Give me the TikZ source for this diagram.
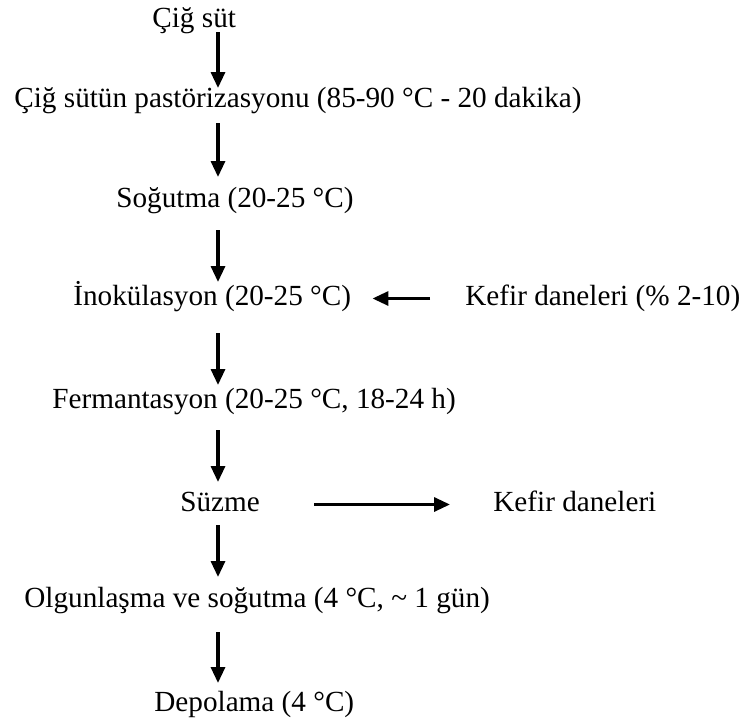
\documentclass[tikz,border=0pt]{standalone}
\usepackage{fontspec}
\setmainfont{Liberation Serif}
\usetikzlibrary{arrows.meta}

\tikzset{
  step text/.style={inner sep=0pt,anchor=base west,text height=.85em,text depth=.2em},
  flow/.style={line width=1.6pt,-{Triangle[length=8pt,width=7pt]}}
}

\begin{document}
\begin{tikzpicture}[x=.5pt,y=-.5pt,font=\fontsize{14.6pt}{17pt}\selectfont]
\useasboundingbox (0,0) rectangle (746,724);
\coordinate (axis) at (218,0);
% main steps
\node[step text] at (152,27) (cig) {Çiğ süt};
\node[step text] at (14,107) (past) {Çiğ sütün pastörizasyonu (85-90 °C - 20 dakika)};
\node[step text] at (116,207) (sogut) {Soğutma (20-25 °C)};
\node[step text] at (73,305) (inok) {İnokülasyon (20-25 °C)};
\node[step text] at (52,408) (ferm) {Fermantasyon (20-25 °C, 18-24 h)};
\node[step text] at (180,511) (suzme) {Süzme};
\node[step text] at (24,607) (olgun) {Olgunlaşma ve soğutma (4 °C, \textasciitilde{} 1 gün)};
\node[step text] at (154,711) (depo) {Depolama (4 °C)};
% side inputs and outputs
\node[step text] at (465,305) (kefirin) {Kefir daneleri (\% 2-10)};
\node[step text] at (493,511) (kefirout) {Kefir daneleri};

\draw[flow,shorten <=2.5pt,shorten >=9.5pt] (cig.base -| axis) -- (past.base -| axis);
\draw[flow,shorten <=8pt,shorten >=15pt] (past.base -| axis) -- (sogut.base -| axis);
\draw[flow,shorten <=11.5pt,shorten >=11.5pt] (sogut.base -| axis) -- (inok.base -| axis);
\draw[flow,shorten <=14pt,shorten >=11.5pt] (inok.base -| axis) -- (ferm.base -| axis);
\draw[flow,shorten <=11pt,shorten >=14.5pt] (ferm.base -| axis) -- (suzme.base -| axis);
\draw[flow,shorten <=7pt,shorten >=15pt] (suzme.base -| axis) -- (olgun.base -| axis);
\draw[flow,shorten <=12.5pt,shorten >=14pt] (olgun.base -| axis) -- (depo.base -| axis);

\draw[flow,shorten <=17.5pt,shorten >=10.5pt] (kefirin.west) -- (inok.east);
\draw[flow,shorten <=27pt,shorten >=21.5pt] (suzme.east) -- (kefirout.west);
\end{tikzpicture}
\end{document}
